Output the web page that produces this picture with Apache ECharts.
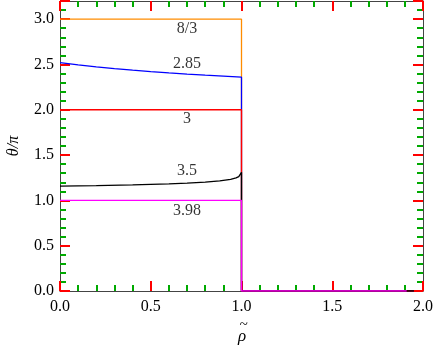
<!DOCTYPE html>
<html>
<head>
<meta charset="utf-8">
<script src="https://cdn.jsdelivr.net/npm/echarts@6/dist/echarts.min.js"></script>
<style>
  html, body { margin: 0; padding: 0; background: #fff; }
  #chart { width: 436px; height: 350px; }
</style>
</head>
<body>
<div id="chart"></div>
<script>
// theta/pi against rho-tilde, one curve per parameter value
const yTicks = [0, 0.5, 1.0, 1.5, 2.0, 2.5, 3.0]

const orangeCurve = [[0, 3.0], [1.0, 3.0], [1.0, 0], [1.95, 0]]
const blueCurve = [
  [0, 2.52], [0.1, 2.495], [0.2, 2.473], [0.3, 2.454], [0.4, 2.437], [0.5, 2.421],
  [0.6, 2.407], [0.7, 2.394], [0.8, 2.382], [0.9, 2.371], [1.0, 2.36], [1.0, 0], [1.95, 0],
]
const redCurve = [[0, 2.0], [1.0, 2.0], [1.0, 0], [1.95, 0]]
const blackCurve = [
  [0, 1.157], [0.2, 1.162], [0.4, 1.17], [0.6, 1.182], [0.7, 1.19], [0.8, 1.202],
  [0.88, 1.215], [0.94, 1.232], [0.97, 1.248], [0.985, 1.262], [0.995, 1.28], [1.0, 1.31],
  [1.0, 0], [1.95, 0],
]
const magentaCurve = [[0, 1.0], [1.0, 1.0], [1.0, 0], [1.91, 0]]

const curveLabels = ['8/3', '2.85', '3', '3.5', '3.98']
const labelPoints = [[0.70, 2.89], [0.70, 2.505], [0.70, 1.90], [0.70, 1.33], [0.70, 0.89]]

const serif = 'Liberation Serif'
const axisColor = '#444'

function frameAxis(pos, showLabels, extra) {
  return Object.assign({
    type: 'value',
    position: pos,
    min: 0,
    interval: 0.5,
    axisLine: { show: true, onZero: false, lineStyle: { color: axisColor, width: 1 } },
    axisTick: { show: true, inside: true, length: 10, lineStyle: { color: '#ff0000', width: 2 } },
    minorTick: { show: true, splitNumber: 5, length: 6, lineStyle: { color: '#00aa00', width: 2 } },
    splitLine: { show: false },
    axisLabel: { show: showLabels },
  }, extra)
}

function curve(name, color, data) {
  return {
    name: name,
    type: 'line',
    data: data,
    showSymbol: false,
    symbol: 'none',
    lineStyle: { color: color, width: 1.3 },
    color: color,
  }
}

const chart = echarts.init(document.getElementById('chart'))
chart.setOption({
  animation: false,
  grid: { left: 60, right: 12, top: 1, bottom: 59 },
  xAxis: [
    frameAxis('bottom', true, {
      max: 2.0,
      axisLabel: {
        show: true, color: '#000', fontFamily: serif, fontSize: 16, margin: 8,
        formatter: (v) => v.toFixed(1),
      },
    }),
    frameAxis('top', false, { max: 2.0 }),
  ],
  yAxis: [
    frameAxis('left', true, {
      max: 3.2,
      axisLabel: {
        show: true, color: '#000', fontFamily: serif, fontSize: 16, margin: 6,
        formatter: (v) => (yTicks.indexOf(v) >= 0 ? v.toFixed(1) : ''),
      },
    }),
    frameAxis('right', false, { max: 3.2 }),
  ],
  // axis titles
  graphic: [
    {
      type: 'text',
      x: 14,
      y: 146,
      rotation: Math.PI / 2,
      style: {
        text: 'θ/π',
        font: 'italic 16px "Liberation Serif"',
        fill: '#000',
        align: 'center',
        verticalAlign: 'middle',
      },
    },
    {
      type: 'text',
      x: 242,
      y: 334,
      style: {
        text: '{t|~}\n{r|ρ}',
        align: 'center',
        verticalAlign: 'middle',
        rich: {
          t: { fontFamily: serif, fontSize: 15, fontStyle: 'italic', fill: '#000', lineHeight: 6, padding: [0, 0, 0, 3] },
          r: { fontFamily: serif, fontSize: 17, fontStyle: 'italic', fill: '#000', lineHeight: 17 },
        },
      },
    },
  ],
  series: [
    curve('8/3', '#ff8c00', orangeCurve),
    curve('2.85', '#0000ff', blueCurve),
    curve('3', '#ff0000', redCurve),
    curve('3.5', '#000000', blackCurve),
    curve('3.98', '#ff00ff', magentaCurve),
    {
      type: 'scatter',
      symbolSize: 0,
      data: labelPoints.map((p, i) => ({ value: p, name: curveLabels[i] })),
      label: {
        show: true,
        position: 'inside',
        formatter: (p) => p.name,
        color: '#000',
        fontFamily: serif,
        fontSize: 16,
      },
    },
  ],
})
</script>
</body>
</html>
